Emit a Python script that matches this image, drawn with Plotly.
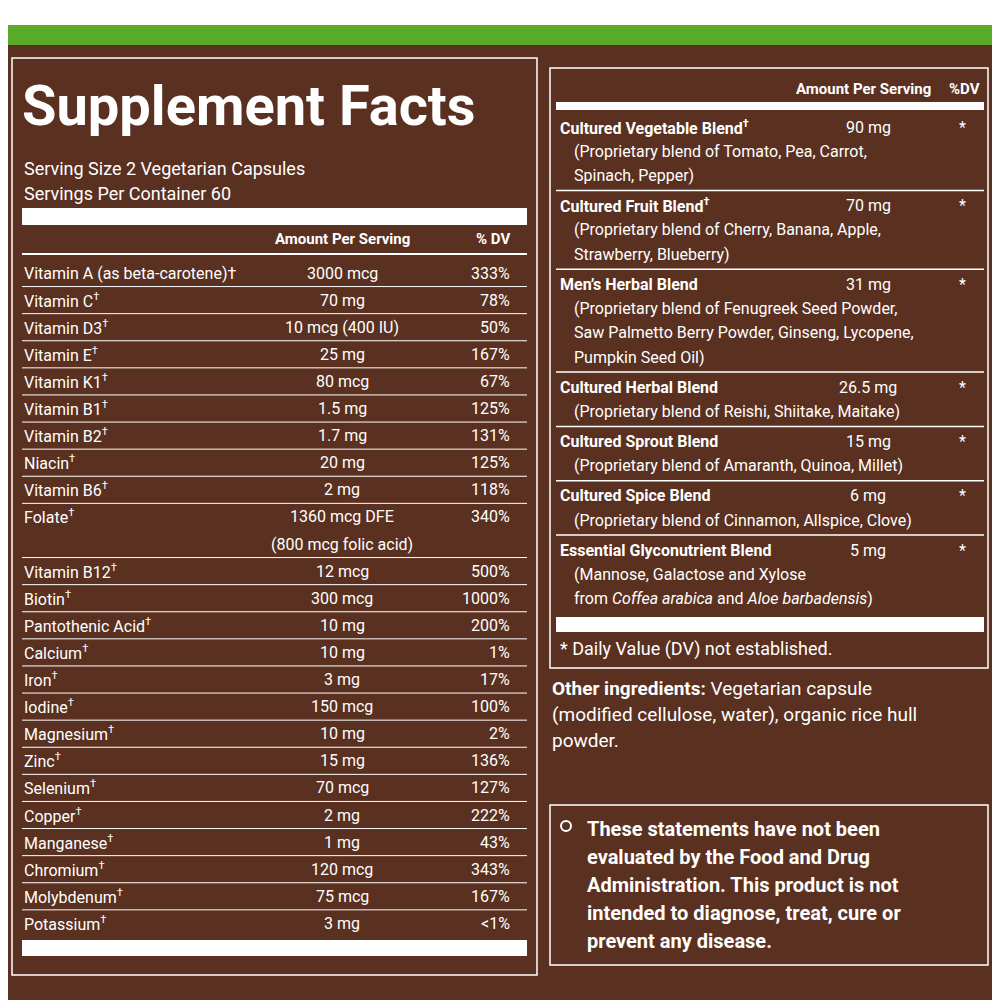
import plotly.graph_objects as go

BROWN = "#5a3020"
GREEN = "#5aaa2a"
FONT = "Roboto"

serving = ["Serving Size 2 Vegetarian Capsules", "Servings Per Container 60"]

nutrients = ["Vitamin A (as beta-carotene)†", "Vitamin C<sup>†</sup>", "Vitamin D3<sup>†</sup>",
             "Vitamin E<sup>†</sup>", "Vitamin K1<sup>†</sup>", "Vitamin B1<sup>†</sup>",
             "Vitamin B2<sup>†</sup>", "Niacin<sup>†</sup>", "Vitamin B6<sup>†</sup>", "Folate<sup>†</sup>",
             "Vitamin B12<sup>†</sup>", "Biotin<sup>†</sup>", "Pantothenic Acid<sup>†</sup>",
             "Calcium<sup>†</sup>", "Iron<sup>†</sup>", "Iodine<sup>†</sup>", "Magnesium<sup>†</sup>",
             "Zinc<sup>†</sup>", "Selenium<sup>†</sup>", "Copper<sup>†</sup>", "Manganese<sup>†</sup>",
             "Chromium<sup>†</sup>", "Molybdenum<sup>†</sup>", "Potassium<sup>†</sup>"]
amounts = ["3000 mcg", "70 mg", "10 mcg (400 IU)", "25 mg", "80 mcg", "1.5 mg", "1.7 mg", "20 mg",
           "2 mg", "1360 mcg DFE<br>(800 mcg folic acid)", "12 mcg", "300 mcg", "10 mg", "10 mg",
           "3 mg", "150 mcg", "10 mg", "15 mg", "70 mcg", "2 mg", "1 mg", "120 mcg", "75 mcg", "3 mg"]
dvs = ["333%", "78%", "50%", "167%", "67%", "125%", "131%", "125%", "118%", "340%", "500%",
       "1000%", "200%", "1%", "17%", "100%", "2%", "136%", "127%", "222%", "43%", "343%",
       "167%", "<1%"]
row_lines = [1, 1, 1, 1, 1, 1, 1, 1, 1, 2, 1, 1, 1, 1, 1, 1, 1, 1, 1, 1, 1, 1, 1, 1]

blends = ["Cultured Vegetable Blend<sup>†</sup>", "Cultured Fruit Blend<sup>†</sup>",
          "Men’s Herbal Blend", "Cultured Herbal Blend", "Cultured Sprout Blend",
          "Cultured Spice Blend", "Essential Glyconutrient Blend"]
blend_amounts = ["90 mg", "70 mg", "31 mg", "26.5 mg", "15 mg", "6 mg", "5 mg"]
blend_details = [
    ["(Proprietary blend of Tomato, Pea, Carrot,", "Spinach, Pepper)"],
    ["(Proprietary blend of Cherry, Banana, Apple,", "Strawberry, Blueberry)"],
    ["(Proprietary blend of Fenugreek Seed Powder,", "Saw Palmetto Berry Powder, Ginseng, Lycopene,",
     "Pumpkin Seed Oil)"],
    ["(Proprietary blend of Reishi, Shiitake, Maitake)"],
    ["(Proprietary blend of Amaranth, Quinoa, Millet)"],
    ["(Proprietary blend of Cinnamon, Allspice, Clove)"],
    ["(Mannose, Galactose and Xylose", "from <i>Coffea arabica</i> and <i>Aloe barbadensis</i>)"],
]
other = ["<b>Other ingredients:</b> Vegetarian capsule", "(modified cellulose, water), organic rice hull",
         "powder."]
statement = ["These statements have not been", "evaluated by the Food and Drug",
             "Administration. This product is not", "intended to diagnose, treat, cure or",
             "prevent any disease."]

fig = go.Figure()
shapes = []
annos = []


def txt(x, y, t, anchor, size=16, bold=False):
    annos.append(dict(x=x, y=y, xref="x", yref="y", text=f"<b>{t}</b>" if bold else t,
                      showarrow=False, xanchor=anchor, yanchor="middle", align=anchor,
                      font=dict(family=FONT, size=size, color="white")))


def rect(x0, y0, x1, y1, fill=None, line=None):
    shapes.append(dict(type="rect", xref="x", yref="y", x0=x0, y0=y0, x1=x1, y1=y1,
                       fillcolor=fill or "rgba(0,0,0,0)",
                       line=dict(color=line or "rgba(0,0,0,0)", width=1.5)))


def hline(x0, x1, y, w=1):
    shapes.append(dict(type="line", xref="x", yref="y", x0=x0, x1=x1, y0=y, y1=y,
                       line=dict(color="white", width=w)))


# background and frames
rect(0, 0, 1000, 25, fill="white")
rect(0, 25, 1000, 45, fill=GREEN)
rect(0, 45, 1000, 1000, fill=BROWN)
rect(12, 58, 537, 975, line="white")
rect(550, 68, 988, 668, line="white")
rect(550, 805, 988, 965, line="white")

# left panel
txt(20, 106, "Supplement Facts", "left", size=56, bold=True)
for i, s in enumerate(serving):
    txt(22, 168 + i * 25, s, "left", size=18)
rect(22, 208, 527, 225, fill="white")
txt(342, 239, "Amount Per Serving", "center", size=15, bold=True)
txt(512, 239, "% DV", "right", size=15, bold=True)
hline(22, 527, 254, 2)

pitch = 27.1
y = 273
for name, amt, dv, n in zip(nutrients, amounts, dvs, row_lines):
    txt(22, y, name, "left")
    if n == 2:
        a1, a2 = amt.split("<br>")
        txt(342, y, a1, "center")
        txt(342, y + pitch, a2, "center")
    else:
        txt(342, y, amt, "center")
    txt(512, y, dv, "right")
    yb = y + (n - 1) * pitch + pitch / 2
    if name != nutrients[-1]:
        hline(22, 527, yb)
    y += n * pitch
rect(22, 940, 527, 956, fill="white")

# right panel
txt(933, 89, "Amount Per Serving", "right", size=15, bold=True)
txt(982, 89, "%DV", "right", size=15, bold=True)
rect(556, 102, 984, 110, fill="white")
y = 127
lp = 24.3
for i, (b, a, det) in enumerate(zip(blends, blend_amounts, blend_details)):
    txt(558, y, b, "left", bold=True)
    txt(868, y, a, "center")
    txt(962, y, "*", "center")
    for j, d in enumerate(det):
        txt(572, y + (j + 1) * lp, d, "left")
    yend = y + len(det) * lp + 15
    if i < len(blends) - 1:
        hline(556, 984, yend, 1.5)
    y = yend + 15
rect(556, 617, 984, 632, fill="white")
txt(558, 649, "* Daily Value (DV) not established.", "left", size=18)
for i, o in enumerate(other):
    txt(550, 688 + i * 26, o, "left", size=19)

shapes.append(dict(type="circle", xref="x", yref="y", x0=561, x1=571, y0=821, y1=831,
                   line=dict(color="white", width=2)))
for i, s in enumerate(statement):
    txt(585, 829 + i * 28, s, "left", size=20, bold=True)

# the page has an 8px body margin, so shift the canvas to line up with the reference
fig.update_layout(width=992, height=992, margin=dict(l=0, r=0, t=0, b=0),
                  plot_bgcolor=BROWN, paper_bgcolor=BROWN, showlegend=False,
                  shapes=shapes, annotations=annos,
                  xaxis=dict(range=[8, 1000], visible=False, fixedrange=True),
                  yaxis=dict(range=[1000, 8], visible=False, fixedrange=True))
fig.write_html("out.html")
